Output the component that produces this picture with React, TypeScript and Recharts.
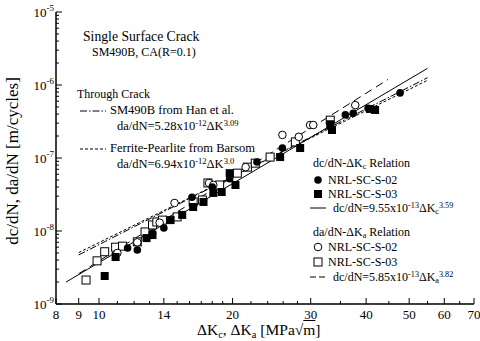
import React from 'react';
import { ScatterChart, Scatter, XAxis, YAxis } from 'recharts';

const FONT = '"Liberation Serif", "Times New Roman", serif';

// plot frame (px) - used only for drawing inward tick marks
const PLOT_LEFT = 56;
const PLOT_RIGHT = 474;
const PLOT_TOP = 12;
const PLOT_BOTTOM = 304;

// dc/dN - dKc, NRL-SC-S-02 (filled circles)
const DC_S02_K = [11.6, 12.2, 13.2, 14.0, 16.2, 18.0, 19.7, 22.7, 25.9, 35.9, 37.4, 40.4, 47.7];
const DC_S02_RATE = [5.85e-9, 5.5e-9, 9.4e-9, 1.1e-8, 2.9e-8, 4.0e-8, 5.2e-8, 8.8e-8, 1.37e-7, 3.9e-7, 4.1e-7, 4.8e-7, 7.8e-7];

// dc/dN - dKc, NRL-SC-S-03 (filled squares)
const DC_S03_K = [10.3, 10.9, 12.8, 13.2, 14.5, 15.4, 16.3, 17.2, 18.1, 18.9, 19.7, 20.3, 25.6, 28.4, 33.2, 33.5, 40.8, 41.9];
const DC_S03_RATE = [2.42e-9, 4.4e-9, 8.0e-9, 8.8e-9, 1.41e-8, 1.66e-8, 2.13e-8, 2.5e-8, 3.32e-8, 3.42e-8, 6.2e-8, 4.27e-8, 1.03e-7, 1.37e-7, 2.9e-7, 2.42e-7, 4.7e-7, 4.55e-7];

// da/dN - dKa, NRL-SC-S-02 (open circles)
const DA_S02_K = [11.0, 12.2, 13.7, 14.8, 17.7, 18.1, 21.4, 25.9, 28.2, 29.9, 30.4, 37.8];
const DA_S02_RATE = [5.0e-9, 7.0e-9, 1.3e-8, 2.42e-8, 4.55e-8, 4.27e-8, 7.5e-8, 2.07e-7, 1.95e-7, 2.83e-7, 2.83e-7, 5.3e-7];

// da/dN - dKa, NRL-SC-S-03 (open squares)
const DA_S03_K = [9.35, 9.9, 10.3, 10.9, 11.3, 12.2, 12.7, 13.2, 13.5, 13.9, 15.0, 16.3, 17.1, 17.6, 18.7, 20.5, 21.6, 22.5, 24.3, 27.7, 33.2];
const DA_S03_RATE = [2.13e-9, 3.9e-9, 5.2e-9, 6.0e-9, 6.2e-9, 7.1e-9, 9.7e-9, 1.21e-8, 1.33e-8, 1.41e-8, 1.56e-8, 2.5e-8, 2.66e-8, 4.55e-8, 4.27e-8, 6.2e-8, 7.5e-8, 8.5e-8, 1.03e-7, 1.66e-7, 3.3e-7];

// fitted lines (end points)
const FIT_DC_K = [8.43, 55];
const FIT_DC_RATE = [2.0e-9, 1.69e-6];
const FIT_DA_K = [9.0, 44.8];
const FIT_DA_RATE = [2.6e-9, 1.19e-6];
const HAN_K = [9.0, 55];
const HAN_RATE = [4.7e-9, 1.26e-6];
const BARSOM_K = [9.0, 55];
const BARSOM_RATE = [5.06e-9, 1.16e-6];

const X_LABELED = [8, 9, 10, 14, 20, 30, 40, 50, 60, 70];
const X_MINOR = [11, 12, 13, 15, 16, 17, 18, 19, 22, 24, 26, 28, 35, 45, 55, 65];
const X_TICKS = [...X_LABELED, ...X_MINOR].sort((a, b) => a - b);
const Y_DECADES = [1e-9, 1e-8, 1e-7, 1e-6, 1e-5];
const Y_MULT = [2, 3, 4, 5, 6, 7, 8, 9];
const Y_TICKS: number[] = [];
Y_DECADES.forEach((d, i) => {
  Y_TICKS.push(d);
  if (i < Y_DECADES.length - 1) Y_MULT.forEach(m => Y_TICKS.push(m * d));
});

const zip = (k: number[], r: number[]) => k.map((v, i) => ({ k: v, rate: r[i] }));

const isDecade = (v: number) => Math.abs(Math.log10(v) - Math.round(Math.log10(v))) < 1e-6;

const BottomTick = (p: any) => {
  const v = p.payload.value;
  const lab = X_LABELED.includes(v);
  return (
    <g>
      <line x1={p.x} x2={p.x} y1={PLOT_BOTTOM} y2={PLOT_BOTTOM - (lab ? 6 : 3)} stroke="#000" />
      {lab && (
        <text x={p.x} y={PLOT_BOTTOM + 15} textAnchor="middle" fontSize={13} fontFamily={FONT} fill="#000">{v}</text>
      )}
    </g>
  );
};

const TopTick = (p: any) => {
  const lab = X_LABELED.includes(p.payload.value);
  return <line x1={p.x} x2={p.x} y1={PLOT_TOP} y2={PLOT_TOP + (lab ? 6 : 3)} stroke="#000" />;
};

const LeftTick = (p: any) => {
  const v = p.payload.value;
  const dec = isDecade(v);
  return (
    <g>
      <line x1={PLOT_LEFT} x2={PLOT_LEFT + (dec ? 6 : 3)} y1={p.y} y2={p.y} stroke="#000" />
      {dec && (
        <text x={54} y={p.y + 5} textAnchor="end" fontSize={13} fontFamily={FONT} fill="#000">
          10<tspan dy={-6} fontSize={9}>{String(Math.round(Math.log10(v)))}</tspan>
        </text>
      )}
    </g>
  );
};

const RightTick = (p: any) => {
  const dec = isDecade(p.payload.value);
  return <line x1={PLOT_RIGHT} x2={PLOT_RIGHT - (dec ? 6 : 3)} y1={p.y} y2={p.y} stroke="#000" />;
};

const filledCircle = (p: any) => <circle cx={p.cx} cy={p.cy} r={3.8} fill="#000" />;
const openCircle = (p: any) => <circle cx={p.cx} cy={p.cy} r={3.8} fill="#fff" stroke="#000" strokeWidth={1} />;
const filledSquare = (p: any) => <rect x={p.cx - 4} y={p.cy - 4} width={8} height={8} fill="#000" />;
const openSquare = (p: any) => <rect x={p.cx - 4} y={p.cy - 4} width={8} height={8} fill="#fff" stroke="#000" strokeWidth={1} />;
const noDot = () => <g />;

const Sup = ({ children }: any) => (
  <span style={{ fontSize: '0.68em', position: 'relative', top: '-0.5em' }}>{children}</span>
);
const Sub = ({ children }: any) => (
  <span style={{ fontSize: '0.68em', position: 'relative', top: '0.3em' }}>{children}</span>
);
const Label = ({ x, y, fs = 12, children }: any) => (
  <div style={{ position: 'absolute', left: x, top: y - fs / 2, fontSize: fs, lineHeight: 1, fontFamily: FONT, whiteSpace: 'nowrap', color: '#000' }}>
    {children}
  </div>
);

export default function App() {
  const axisLine = { stroke: '#000', strokeWidth: 1.5 };
  return (
    <div style={{ position: 'fixed', left: 0, top: 0, width: 480, height: 341, background: '#fff' }}>
      <ScatterChart width={480} height={341} margin={{ top: 12, right: 6, bottom: 0, left: 0 }}>
        <XAxis type="number" dataKey="k" scale="log" domain={[8, 70]} allowDataOverflow ticks={X_TICKS} interval={0}
          height={37} tickLine={false} axisLine={axisLine} tick={BottomTick} />
        <XAxis xAxisId="top" orientation="top" type="number" dataKey="k" scale="log" domain={[8, 70]} allowDataOverflow
          ticks={X_TICKS} interval={0} height={0} tickLine={false} axisLine={axisLine} tick={TopTick} />
        <YAxis type="number" dataKey="rate" scale="log" domain={[1e-9, 1e-5]} allowDataOverflow ticks={Y_TICKS} interval={0}
          width={56} tickLine={false} axisLine={axisLine} tick={LeftTick} />
        <YAxis yAxisId="right" orientation="right" type="number" dataKey="rate" scale="log" domain={[1e-9, 1e-5]} allowDataOverflow
          ticks={Y_TICKS} interval={0} width={0} tickLine={false} axisLine={axisLine} tick={RightTick} />

        <Scatter data={zip(HAN_K, HAN_RATE)} line={{ stroke: '#000', strokeWidth: 1, strokeDasharray: '7 2 1.5 2' }} shape={noDot} isAnimationActive={false} />
        <Scatter data={zip(BARSOM_K, BARSOM_RATE)} line={{ stroke: '#000', strokeWidth: 1, strokeDasharray: '3 2' }} shape={noDot} isAnimationActive={false} />
        <Scatter data={zip(FIT_DA_K, FIT_DA_RATE)} line={{ stroke: '#000', strokeWidth: 1, strokeDasharray: '8 5' }} shape={noDot} isAnimationActive={false} />
        <Scatter data={zip(FIT_DC_K, FIT_DC_RATE)} line={{ stroke: '#000', strokeWidth: 1 }} shape={noDot} isAnimationActive={false} />

        <Scatter data={zip(DA_S03_K, DA_S03_RATE)} shape={openSquare} isAnimationActive={false} />
        <Scatter data={zip(DA_S02_K, DA_S02_RATE)} shape={openCircle} isAnimationActive={false} />
        <Scatter data={zip(DC_S03_K, DC_S03_RATE)} shape={filledSquare} isAnimationActive={false} />
        <Scatter data={zip(DC_S02_K, DC_S02_RATE)} shape={filledCircle} isAnimationActive={false} />
      </ScatterChart>

      {/* titles & legends */}
      <Label x={83} y={37} fs={13.7}>Single Surface Crack</Label>
      <Label x={92} y={52} fs={12}>SM490B, CA(R=0.1)</Label>
      <Label x={77} y={94} fs={12}>Through Crack</Label>
      <Label x={110} y={110} fs={12.5}>SM490B from Han et al.</Label>
      <Label x={117} y={126} fs={12.5}>da/dN=5.28x10<Sup>-12</Sup>ΔK<Sup>3.09</Sup></Label>
      <Label x={110} y={148} fs={12.5}>Ferrite-Pearlite from Barsom</Label>
      <Label x={117} y={164} fs={12.5}>da/dN=6.94x10<Sup>-12</Sup>ΔK<Sup>3.0</Sup></Label>

      <Label x={313} y={163} fs={12}>dc/dN-ΔK<Sub>c</Sub> Relation</Label>
      <Label x={328} y={180} fs={12}>NRL-SC-S-02</Label>
      <Label x={328} y={194} fs={12}>NRL-SC-S-03</Label>
      <Label x={333} y={208} fs={12}>dc/dN=9.55x10<Sup>-13</Sup>ΔK<Sub>c</Sub><Sup>3.59</Sup></Label>
      <Label x={313} y={232} fs={12}>da/dN-ΔK<Sub>a</Sub> Relation</Label>
      <Label x={328} y={247} fs={12}>NRL-SC-S-02</Label>
      <Label x={328} y={262} fs={12}>NRL-SC-S-03</Label>
      <Label x={333} y={277} fs={12}>dc/dN=5.85x10<Sup>-13</Sup>ΔK<Sub>a</Sub><Sup>3.82</Sup></Label>

      <svg width={480} height={341} style={{ position: 'absolute', left: 0, top: 0, pointerEvents: 'none' }}>
        <line x1={80} x2={106} y1={111} y2={111} stroke="#000" strokeDasharray="7 2 1.5 2" />
        <line x1={80} x2={106} y1={149} y2={149} stroke="#000" strokeDasharray="3 2" />
        <circle cx={318} cy={180} r={3.8} fill="#000" />
        <rect x={314} y={190} width={8} height={8} fill="#000" />
        <line x1={310} x2={326} y1={208} y2={208} stroke="#000" />
        <circle cx={318} cy={247} r={3.8} fill="#fff" stroke="#000" />
        <rect x={314} y={258} width={8} height={8} fill="#fff" stroke="#000" />
        <line x1={310} x2={327} y1={277} y2={277} stroke="#000" strokeDasharray="6 3" />
      </svg>

      {/* axis titles */}
      <Label x={197} y={330} fs={15.5}>ΔK<Sub>c</Sub>, ΔK<Sub>a</Sub> [MPa√<span style={{ textDecoration: 'overline' }}>m</span>]</Label>
      <div style={{ position: 'absolute', left: 12, top: 161, transform: 'translate(-50%, -50%) rotate(-90deg)', fontSize: 17, lineHeight: 1, fontFamily: FONT, whiteSpace: 'nowrap' }}>
        dc/dN, da/dN [m/cycles]
      </div>
    </div>
  );
}
